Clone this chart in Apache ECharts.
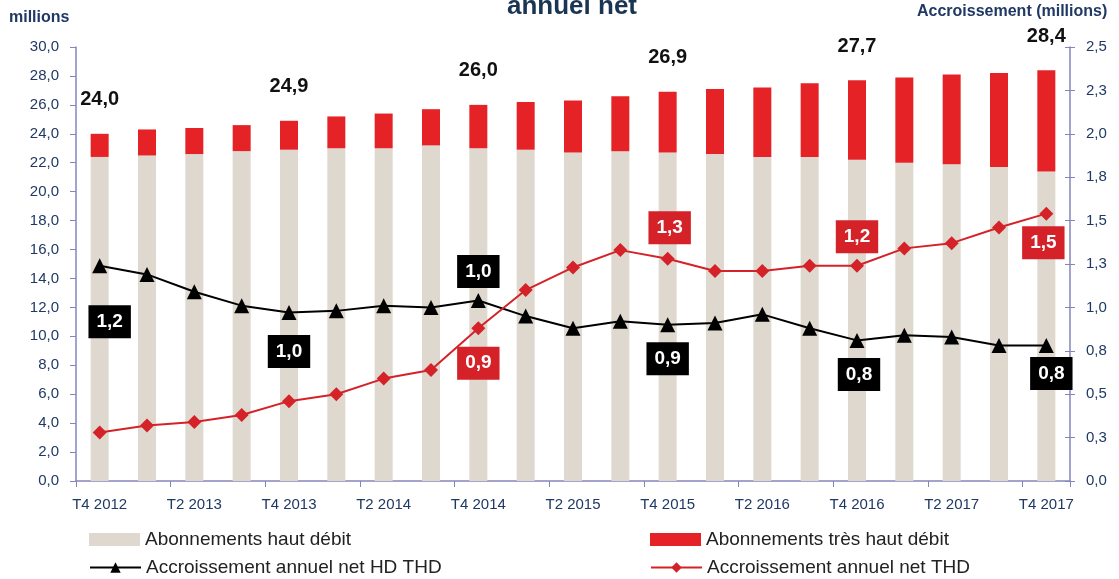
<!DOCTYPE html>
<html>
<head>
<meta charset="utf-8">
<script src="https://cdn.jsdelivr.net/npm/echarts@6/dist/echarts.min.js"></script>
<style>
html, body { margin: 0; padding: 0; background: #fff; }
#chart { width: 1119px; height: 579px; }
</style>
</head>
<body>
<div id="chart"></div>
<script>
// trimestres
var quarters = ['T4 2012', 'T1 2013', 'T2 2013', 'T3 2013', 'T4 2013', 'T1 2014', 'T2 2014', 'T3 2014',
    'T4 2014', 'T1 2015', 'T2 2015', 'T3 2015', 'T4 2015', 'T1 2016', 'T2 2016', 'T3 2016',
    'T4 2016', 'T1 2017', 'T2 2017', 'T3 2017', 'T4 2017']
// abonnements (millions)
var hautDebit = [22.4, 22.5, 22.6, 22.8, 22.9, 23.0, 23.0, 23.2, 23.0, 22.9, 22.7,
    22.8, 22.7, 22.6, 22.4, 22.4, 22.2, 22.0, 21.9, 21.7, 21.4]
var tresHautDebit = [1.6, 1.8, 1.8, 1.8, 2.0, 2.2, 2.4, 2.5, 3.0, 3.3, 3.6,
    3.8, 4.2, 4.5, 4.8, 5.1, 5.5, 5.9, 6.2, 6.5, 7.0]
// accroissement annuel net (millions)
var accrHdThd = [1.24, 1.19, 1.09, 1.01, 0.97, 0.98, 1.01, 1.00, 1.04, 0.95, 0.88,
    0.92, 0.90, 0.91, 0.96, 0.88, 0.81, 0.84, 0.83, 0.78, 0.78]
var accrThd = [0.28, 0.32, 0.34, 0.38, 0.46, 0.50, 0.59, 0.64, 0.88, 1.10, 1.23,
    1.33, 1.28, 1.21, 1.21, 1.24, 1.24, 1.34, 1.37, 1.46, 1.54]
// points étiquetés (T4 de chaque année)
var totalLabelIdx = [0, 4, 8, 12, 16, 20]

var navy = '#1f3864'
var axisColor = '#8585bd'
var font = '"Liberation Sans", Arial, sans-serif'

// décalage des étiquettes [dx, dy]
var blackOffsets = { 0: [10, 56], 4: [0, 39], 8: [0, -29], 12: [0, 34], 16: [2, 34], 20: [5, 28] }
var redOffsets = { 8: [0, 35], 12: [2, -31], 16: [0, -29], 20: [-3, 29] }

function fmt(v) {
    return v.toFixed(1).replace('.', ',')
}

function lineData(values, offsets, bg) {
    return values.map(function (v, i) {
        if (!offsets[i]) return v
        return {
            value: v,
            label: {
                show: true,
                position: 'inside',
                offset: offsets[i],
                backgroundColor: bg,
                color: '#fff',
                fontWeight: 'bold',
                fontSize: 19,
                lineHeight: 19,
                padding: [7, 8, 7, 8],
                fontFamily: font,
                formatter: function (p) { return fmt(p.value) }
            }
        }
    })
}

// une légende par entrée, placée en deux colonnes
function legendItem(name, left, top, icon) {
    var item = { name: name }
    if (icon) item.icon = icon
    return {
        left: left, top: top,
        itemWidth: 51, itemHeight: 13,
        textStyle: { fontSize: 19, color: '#222', fontFamily: font },
        data: [item]
    }
}

var chart = echarts.init(document.getElementById('chart'))
chart.setOption({
    animation: false,
    textStyle: { fontFamily: font },
    title: {
        text: 'annuel net',
        left: 502,
        top: -11,
        textStyle: { fontSize: 26, fontWeight: 'bold', color: '#1a3553', fontFamily: font }
    },
    graphic: [
        {
            type: 'text', left: 9, top: 10,
            style: { text: 'millions', font: 'bold 16px ' + font, fill: navy }
        },
        {
            type: 'text', left: 917, top: 4,
            style: { text: 'Accroissement (millions)', font: 'bold 16px ' + font, fill: navy }
        }
    ],
    grid: {
        left: 76,
        right: 49,
        top: 47,
        bottom: 98,
        containLabel: false,
        outerBoundsMode: 'none'
    },
    legend: [
        legendItem('Abonnements haut débit', 84, 525, 'rect'),
        legendItem('Abonnements très haut débit', 645, 525, 'rect'),
        legendItem('Accroissement annuel net HD THD', 84, 553),
        legendItem('Accroissement annuel net THD', 645, 553)
    ],
    xAxis: {
        type: 'category',
        data: quarters,
        axisLine: { show: true, lineStyle: { color: axisColor, width: 1.5 } },
        axisTick: { show: true, length: 6, lineStyle: { color: axisColor } },
        axisLabel: { interval: 1, color: navy, fontSize: 15, margin: 16 }
    },
    yAxis: [
        {
            type: 'value',
            min: 0, max: 30, interval: 2,
            splitLine: { show: false },
            axisLine: { show: true, lineStyle: { color: axisColor, width: 1.5 } },
            axisTick: { show: true, length: 6, lineStyle: { color: axisColor } },
            axisLabel: { color: navy, fontSize: 15, margin: 17, formatter: fmt }
        },
        {
            type: 'value',
            position: 'right',
            min: 0, max: 2.5, interval: 0.25,
            splitLine: { show: false },
            axisLine: { show: true, lineStyle: { color: axisColor, width: 1.5 } },
            axisTick: { show: true, length: 5, lineStyle: { color: axisColor } },
            axisLabel: { color: navy, fontSize: 15, margin: 16, formatter: fmt }
        },
        {
            // ticks intérieurs de l'axe droit
            type: 'value',
            position: 'right',
            min: 0, max: 2.5, interval: 0.25,
            splitLine: { show: false },
            axisLine: { show: false },
            axisTick: { show: true, inside: true, length: 5, lineStyle: { color: axisColor } },
            axisLabel: { show: false }
        }
    ],
    series: [
        {
            name: 'Abonnements haut débit',
            type: 'bar',
            stack: 'abo',
            barWidth: 18,
            itemStyle: { color: '#ded8ce' },
            data: hautDebit
        },
        {
            name: 'Abonnements très haut débit',
            type: 'bar',
            stack: 'abo',
            barWidth: 18,
            itemStyle: { color: '#e52327' },
            label: {
                show: true,
                position: 'top',
                distance: 24,
                color: '#111',
                fontWeight: 'bold',
                fontSize: 20,
                fontFamily: font,
                formatter: function (p) {
                    if (totalLabelIdx.indexOf(p.dataIndex) < 0) return ''
                    return fmt(hautDebit[p.dataIndex] + tresHautDebit[p.dataIndex])
                }
            },
            data: tresHautDebit
        },
        {
            name: 'Accroissement annuel net HD THD',
            type: 'line',
            yAxisIndex: 1,
            symbol: 'triangle',
            symbolSize: 15,
            z: 5,
            itemStyle: { color: '#000' },
            lineStyle: { color: '#000', width: 2 },
            label: { show: false },
            data: lineData(accrHdThd, blackOffsets, '#000')
        },
        {
            name: 'Accroissement annuel net THD',
            type: 'line',
            yAxisIndex: 1,
            symbol: 'diamond',
            symbolSize: 14,
            z: 5,
            itemStyle: { color: '#d42228' },
            lineStyle: { color: '#d42228', width: 2 },
            label: { show: false },
            data: lineData(accrThd, redOffsets, '#d42228')
        }
    ]
})
</script>
</body>
</html>
